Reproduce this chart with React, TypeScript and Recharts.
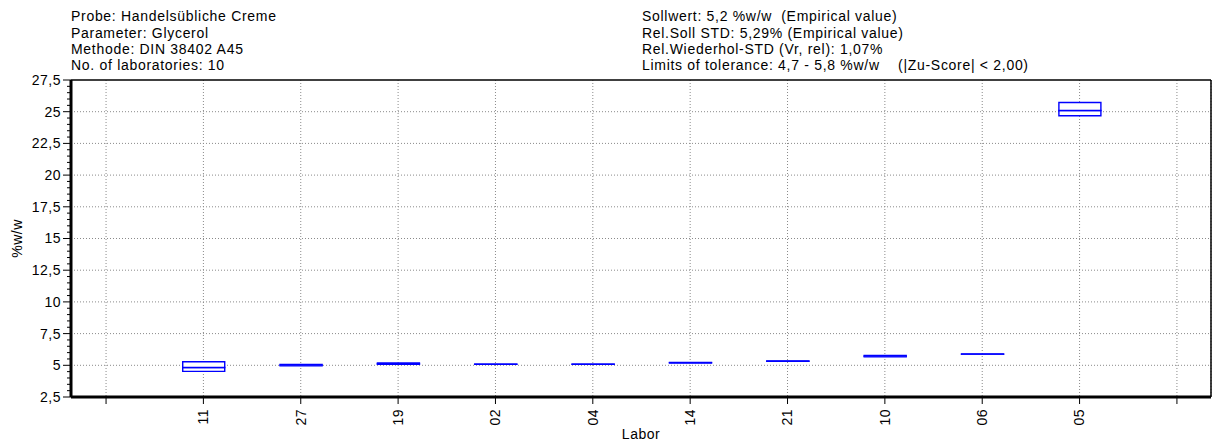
import React from 'react';
import { ComposedChart, Bar, XAxis, YAxis, CartesianGrid, ReferenceLine, Label } from 'recharts';

const labs = ['11', '27', '19', '02', '04', '14', '21', '10', '06', '05'];
const q1Values = [4.52, 4.96, 5.07, 5.07, 5.07, 5.18, 5.31, 5.68, 5.87, 24.68];
const medianValues = [4.83, 5.01, 5.12, 5.08, 5.08, 5.21, 5.32, 5.72, 5.88, 25.09];
const q3Values = [5.28, 5.06, 5.18, 5.09, 5.09, 5.23, 5.34, 5.77, 5.9, 25.73];

const headerLeft = [
  'Probe: Handelsübliche Creme',
  'Parameter: Glycerol',
  'Methode: DIN 38402 A45',
  'No. of laboratories: 10',
];
const headerRight = [
  'Sollwert: 5,2 %w/w  (Empirical value)',
  'Rel.Soll STD: 5,29% (Empirical value)',
  'Rel.Wiederhol-STD (Vr, rel): 1,07%',
  'Limits of tolerance: 4,7 - 5,8 %w/w    (|Zu-Score| < 2,00)',
];

const yDomain = [2.5, 27.5];
const yMajorTicks = [2.5, 5, 7.5, 10, 12.5, 15, 17.5, 20, 22.5, 25, 27.5];
const yGridValues = [5, 7.5, 10, 12.5, 15, 17.5, 20, 22.5, 25];
const yMinorStep = 0.5;
const yAllTicks: number[] = [];
for (let v = yDomain[0]; v <= yDomain[1] + 1e-9; v += yMinorStep) yAllTicks.push(Math.round(v * 10) / 10);

const xDomain = [-0.36, 11.35];
const xTicks = [0, 1, 2, 3, 4, 5, 6, 7, 8, 9, 10, 11];

const data = labs.map((lab, i) => ({
  pos: i + 1,
  lab,
  base: q1Values[i],
  lower: medianValues[i] - q1Values[i],
  upper: q3Values[i] - medianValues[i],
}));

const FONT = '"Liberation Sans", Arial, sans-serif';
const FS = 14;
const LS = 0.5;
const HLS = 0.7;

const fmt = (v: number) => String(v).replace('.', ',');

const YTick = (props: any) => {
  const { x, y, payload } = props;
  const v = Number(payload.value);
  const major = yMajorTicks.some((t) => Math.abs(t - v) < 1e-6);
  return (
    <g>
      <line x1={x + (major ? 2 : 6)} x2={x + 10} y1={y} y2={y} stroke="#000" strokeWidth={1} />
      {major && (
        <text x={x} y={y} dy="0.35em" textAnchor="end" fontFamily={FONT} fontSize={FS} letterSpacing={LS} fill="#000">
          {fmt(v)}
        </text>
      )}
    </g>
  );
};

const XTick = (props: any) => {
  const { x, y, payload } = props;
  const idx = Number(payload.value);
  const label = idx >= 1 && idx <= labs.length ? labs[idx - 1] : '';
  return (
    <g transform={`translate(${x},${y})`}>
      <text transform="rotate(-90)" textAnchor="end" dy="0.35em" fontFamily={FONT} fontSize={FS} letterSpacing={LS} fill="#000">
        {label}
      </text>
    </g>
  );
};

const textStyle: React.CSSProperties = {
  position: 'absolute',
  fontFamily: FONT,
  fontSize: FS,
  letterSpacing: HLS,
  lineHeight: '16.2px',
  whiteSpace: 'pre',
  color: '#000',
  margin: 0,
};

export default function App() {
  return (
    <div style={{ position: 'absolute', left: 0, top: 0, width: 1217, height: 441, background: '#fff' }}>
      <div style={{ ...textStyle, left: 71, top: 8.4 }}>
        {headerLeft.map((t) => (
          <div key={t}>{t}</div>
        ))}
      </div>
      <div style={{ ...textStyle, left: 642, top: 8.4 }}>
        {headerRight.map((t) => (
          <div key={t}>{t}</div>
        ))}
      </div>
      <ComposedChart width={1217} height={441} data={data} margin={{ top: 80, right: 6, left: 0, bottom: 0 }}>
        <CartesianGrid
          stroke="#8a8a8a"
          strokeDasharray="1 2"
          horizontalValues={yGridValues}
        />
        <XAxis
          type="number"
          dataKey="pos"
          domain={xDomain}
          ticks={xTicks}
          interval={0}
          allowDataOverflow
          height={44}
          tickSize={7}
          tickMargin={5}
          tick={<XTick />}
          tickLine={{ stroke: '#000' }}
          axisLine={{ stroke: '#000', strokeWidth: 3 }}
        >
          <Label value="Labor" position="insideBottom" offset={2.5} fontFamily={FONT} fontSize={FS} letterSpacing={LS} fill="#000" />
        </XAxis>
        <YAxis
          type="number"
          domain={yDomain}
          ticks={yAllTicks}
          interval={0}
          allowDataOverflow
          width={71}
          tickSize={8}
          tickMargin={2}
          tickLine={false}
          tick={<YTick />}
          axisLine={{ stroke: '#000', strokeWidth: 3 }}
        >
          <Label value="%w/w" angle={-90} position="insideLeft" offset={17} style={{ textAnchor: 'middle' }} fontFamily={FONT} fontSize={FS} letterSpacing={LS} fill="#000" />
        </YAxis>
        <ReferenceLine y={yDomain[1]} stroke="#000" strokeWidth={1.5} ifOverflow="visible" />
        <ReferenceLine x={xDomain[1]} stroke="#000" strokeWidth={1.5} ifOverflow="visible" />
        <Bar dataKey="base" stackId="box" fill="transparent" stroke="none" barSize={42} isAnimationActive={false} />
        <Bar dataKey="lower" stackId="box" fill="#fff" stroke="#0000ff" strokeWidth={1.4} barSize={42} isAnimationActive={false} />
        <Bar dataKey="upper" stackId="box" fill="#fff" stroke="#0000ff" strokeWidth={1.4} barSize={42} isAnimationActive={false} />
      </ComposedChart>
    </div>
  );
}
